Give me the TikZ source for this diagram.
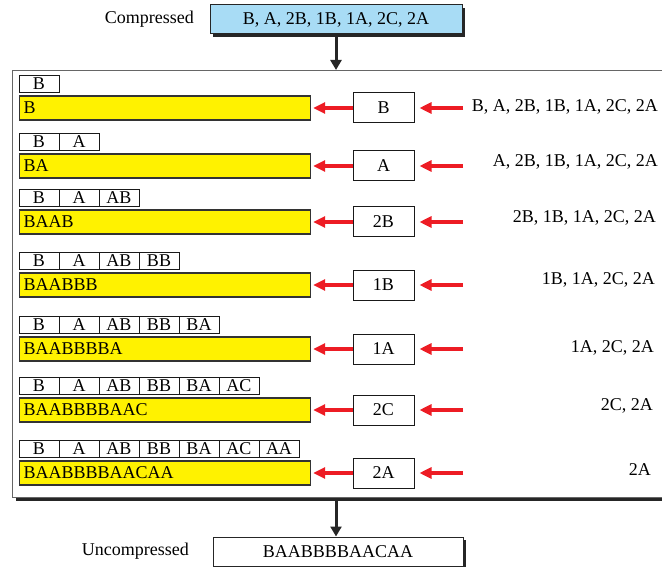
\documentclass[tikz,border=0pt]{standalone}
\usepackage{fontspec}
\setmainfont{Liberation Serif}
\usetikzlibrary{shapes,shadows,arrows.meta,positioning}

\definecolor{lzblue}{HTML}{A8DCF5}
\definecolor{lzyellow}{HTML}{FFF200}
\definecolor{lzred}{HTML}{ED1C24}

\tikzset{
  boxshadow/.style={drop shadow={shadow xshift=3pt,shadow yshift=-3pt,opacity=1,fill=black!85}},
  streambox/.style={draw=black!85,line width=1pt,minimum height=29pt,inner sep=0pt,boxshadow},
  framebox/.style={draw=black!60,line width=1pt,fill=white,minimum width=670pt,minimum height=427pt,boxshadow},
  dictcell/.style={draw=black!90,line width=0.8pt,minimum width=40pt,minimum height=17pt,inner sep=0pt},
  outbar/.style={draw=black!80,line width=1.2pt,fill=lzyellow,text width=283pt,align=left,inner xsep=4pt,minimum height=24pt,inner ysep=0pt},
  codebox/.style={draw=black!90,line width=1pt,fill=white,minimum width=61pt,minimum height=30pt,inner sep=0pt},
  feedarrow/.style={-{Triangle[length=10pt,width=11pt]},line width=3pt,black!85},
  redarrow/.style={-{Triangle[length=12pt,width=11pt]},line width=4pt,lzred}
}

\begin{document}
\begin{tikzpicture}[x=1pt,y=-1pt,font=\fontsize{18}{20}\selectfont]
\useasboundingbox (0,0) rectangle (662,567);
\clip (0,0) rectangle (662,567);

% input and output streams
\node[streambox,fill=lzblue,minimum width=252pt] (comp) at (336,19.5) {B, A, 2B, 1B, 1A, 2C, 2A};
\node[left=12pt of comp] (complab) {Compressed};
\node[framebox,anchor=north west] (frame) at (12,70) {};
\node[streambox,fill=white,minimum width=250pt] (uncomp) at (338,551.5) {BAABBBBAACAA};
\node[left=20pt of uncomp] (uncomplab) {Uncompressed};

\draw[feedarrow] (comp.south) -- (comp.south |- frame.north);
\draw[feedarrow] (frame.south -| comp.south) -- (uncomp.north -| comp.south);

% one row per decoded codeword
\foreach \i/\y/\code/\out/\rest/\rx/\ry in {
    1/108/B/B/{B, A, 2B, 1B, 1A, 2C, 2A}/658/107,
    2/166/A/BA/{A, 2B, 1B, 1A, 2C, 2A}/658/162,
    3/222/2B/BAAB/{2B, 1B, 1A, 2C, 2A}/656/218,
    4/285/1B/BAABBB/{1B, 1A, 2C, 2A}/655/280,
    5/349/1A/BAABBBBA/{1A, 2C, 2A}/654/348,
    6/410/2C/BAABBBBAAC/{2C, 2A}/653/406,
    7/473/2A/BAABBBBAACAA/{2A}/651/470}
{
  % dictionary so far
  \foreach \lab [count=\j] in {B,A,AB,BB,BA,AC,AA}
  {
    \ifnum\j>\i\relax\else
      \node[dictcell] (cell\i-\j) at ({40*\j-1},{\y-24.5}) {\lab};
    \fi
  }
  \node[outbar,anchor=west] (bar\i) at (19,\y) {\out};
  \node[codebox] (code\i) at (383.5,\y) {\code};
  \node[anchor=east,inner sep=0pt] (rest\i) at (\rx,\ry) {\rest};
  \coordinate (tail\i) at (463,\y);
  \draw[redarrow,shorten >=2pt] (code\i.west) -- (bar\i.east);
  \draw[redarrow,shorten >=5pt] (tail\i) -- (code\i.east);
}
\end{tikzpicture}
\end{document}
